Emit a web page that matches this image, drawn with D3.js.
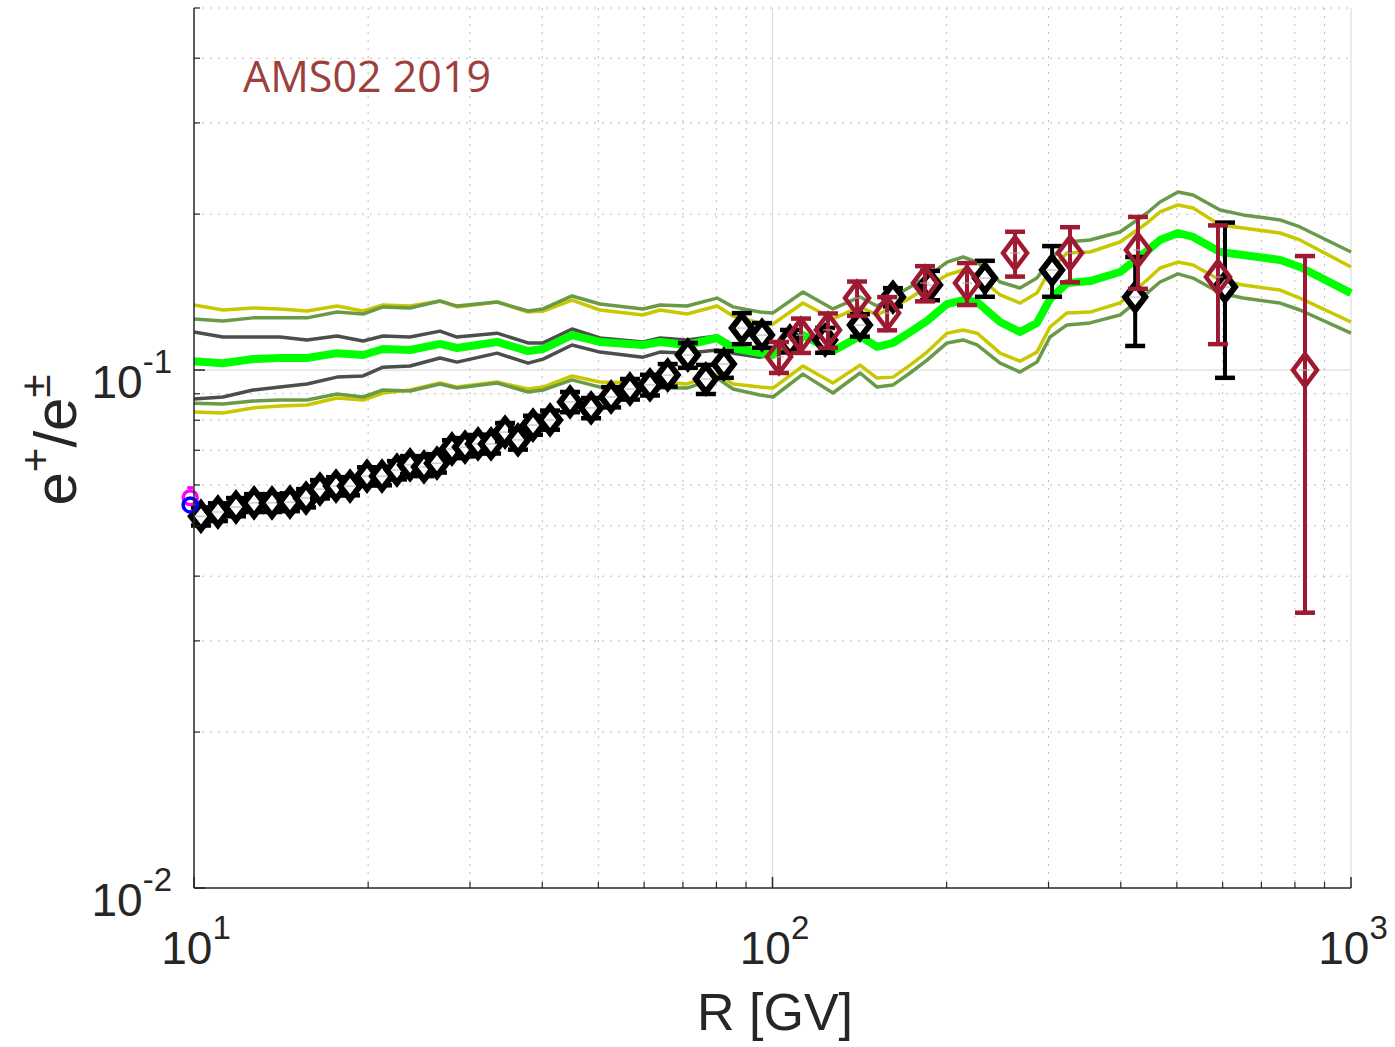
<!DOCTYPE html>
<html>
<head>
<meta charset="utf-8">
<script src="https://cdn.jsdelivr.net/npm/d3@7"></script>
<style>
  html, body { margin: 0; padding: 0; background: #fff; }
  svg { display: block; }
</style>
</head>
<body>
<svg id="chart" width="1395" height="1047"></svg>
<script>
// e+/e± fraction vs rigidity, model bands + AMS02 points

// --- model curves (shared rigidity grid) ---
const R_GRID = [10.0, 11.22, 12.65, 14.08, 15.68, 17.67, 19.60, 21.22, 23.63, 26.62, 28.49, 33.41, 37.79, 40.12,
  45.02, 50.32, 59.72, 63.91, 71.14, 80.19, 85.46, 95.15, 100.2, 112.9, 127.2, 141.7, 151.6, 161.6, 172.9, 185.0,
  200.3, 213.5, 225.8, 247.4, 267.8, 286.5, 301.8, 322.9, 353.9, 398.7, 444.1, 467.6, 502.3, 533.3, 593.8, 650.8,
  754.0, 816.3, 1000];

const CENTRAL = [0.1040, 0.1031, 0.1050, 0.1055, 0.1055, 0.1078, 0.1069, 0.1098, 0.1093, 0.1123, 0.1103, 0.1133, 0.1088, 0.1098,
  0.1168, 0.1133, 0.1118, 0.1133, 0.1118, 0.1153, 0.1103, 0.1078, 0.1069, 0.1168, 0.1088, 0.1163, 0.1108, 0.1128, 0.1184, 0.1244,
  0.1341, 0.1365, 0.1353, 0.1238, 0.1184, 0.1233, 0.1371, 0.1472, 0.1485, 0.1546, 0.1698, 0.1783, 0.1839, 0.1807, 0.1690, 0.1668,
  0.1631, 0.1581, 0.1408];

const YEL_UP = [0.1335, 0.1306, 0.1318, 0.1312, 0.1300, 0.1329, 0.1300, 0.1335, 0.1329, 0.1359, 0.1324, 0.1353, 0.1294, 0.1300,
  0.1365, 0.1306, 0.1277, 0.1306, 0.1283, 0.1329, 0.1271, 0.1233, 0.1227, 0.1347, 0.1255, 0.1324, 0.1277, 0.1324, 0.1377, 0.1446,
  0.1526, 0.1560, 0.1526, 0.1396, 0.1347, 0.1408, 0.1560, 0.1683, 0.1690, 0.1767, 0.1923, 0.2019, 0.2083, 0.2055, 0.1906, 0.1881,
  0.1839, 0.1783, 0.1581];

const YEL_LO = [0.0830, 0.0826, 0.0845, 0.0852, 0.0856, 0.0883, 0.0875, 0.0903, 0.0915, 0.0944, 0.0927, 0.0948, 0.0919, 0.0927,
  0.0974, 0.0948, 0.0944, 0.0948, 0.0940, 0.0982, 0.0940, 0.0927, 0.0923, 0.1018, 0.0944, 0.1022, 0.0965, 0.0969, 0.1022, 0.1083,
  0.1178, 0.1195, 0.1178, 0.1078, 0.1040, 0.1083, 0.1211, 0.1289, 0.1294, 0.1347, 0.1492, 0.1574, 0.1616, 0.1595, 0.1492, 0.1459,
  0.1427, 0.1377, 0.1238];

const OLV_UP = [0.1255, 0.1244, 0.1261, 0.1261, 0.1261, 0.1294, 0.1283, 0.1324, 0.1318, 0.1359, 0.1329, 0.1353, 0.1300, 0.1312,
  0.1390, 0.1341, 0.1312, 0.1335, 0.1329, 0.1377, 0.1324, 0.1294, 0.1289, 0.1415, 0.1312, 0.1384, 0.1329, 0.1384, 0.1446, 0.1512,
  0.1616, 0.1653, 0.1616, 0.1479, 0.1440, 0.1505, 0.1631, 0.1767, 0.1783, 0.1847, 0.2010, 0.2111, 0.2207, 0.2178, 0.2037, 0.1993,
  0.1949, 0.1889, 0.1690];

const OLV_LO = [0.0863, 0.0860, 0.0871, 0.0875, 0.0875, 0.0899, 0.0887, 0.0915, 0.0911, 0.0940, 0.0923, 0.0944, 0.0907, 0.0915,
  0.0957, 0.0927, 0.0915, 0.0923, 0.0923, 0.0965, 0.0919, 0.0895, 0.0887, 0.0982, 0.0903, 0.0987, 0.0927, 0.0936, 0.0987, 0.1045,
  0.1128, 0.1143, 0.1118, 0.1031, 0.0991, 0.1036, 0.1158, 0.1222, 0.1233, 0.1277, 0.1408, 0.1479, 0.1533, 0.1505, 0.1408, 0.1377,
  0.1347, 0.1306, 0.1178];

// dark band only runs up to ~100 GV where it closes onto the central curve
const DRK_UP = [0.1184, 0.1158, 0.1158, 0.1158, 0.1143, 0.1163, 0.1138, 0.1163, 0.1158, 0.1189, 0.1158, 0.1178, 0.1128, 0.1128,
  0.1200, 0.1153, 0.1133, 0.1153, 0.1143, 0.1163, 0.1118, 0.1083, 0.1069];
const DRK_LO = [0.0879, 0.0887, 0.0915, 0.0927, 0.0940, 0.0969, 0.0974, 0.1013, 0.1018, 0.1055, 0.1036, 0.1078, 0.1031, 0.1050,
  0.1118, 0.1083, 0.1059, 0.1083, 0.1078, 0.1093, 0.1078, 0.1059, 0.1069];

// --- data: black diamonds ---
const AMS_R = [10.28, 11.0, 11.82, 12.7, 13.64, 14.65, 15.62, 16.51, 17.6, 18.61, 19.91, 21.13, 22.43, 23.63, 24.98, 26.3,
  27.92, 29.41, 30.97, 32.62, 34.49, 36.31, 38.55, 41.25, 44.67, 48.57, 52.6, 56.7, 61.4, 65.9, 71.4, 76.7, 82.4, 88.5,
  95.9, 107.2, 123.3, 141.6, 161.5, 187.2, 232.9, 304.3, 423.6, 605.6];
const AMS_FRAC = [0.0522, 0.0532, 0.0544, 0.0554, 0.0554, 0.0556, 0.0566, 0.0589, 0.0597, 0.0597, 0.0624, 0.0624, 0.0641,
  0.0656, 0.0650, 0.0661, 0.0704, 0.0710, 0.0720, 0.0720, 0.0759, 0.0733, 0.0783, 0.0801, 0.0868, 0.0845, 0.0887, 0.0919,
  0.0936, 0.0978, 0.1069, 0.0961, 0.1027, 0.1205, 0.1168, 0.1138, 0.1143, 0.1221, 0.1383, 0.1459, 0.1505, 0.1560, 0.1383, 0.1446];
const AMS_ERR = [0.0021, 0.0021, 0.0022, 0.0022, 0.0022, 0.0022, 0.0023, 0.0024, 0.0024, 0.0024, 0.0025, 0.0025, 0.0026,
  0.0026, 0.0026, 0.0027, 0.0028, 0.0029, 0.0029, 0.0030, 0.0031, 0.0031, 0.0033, 0.0034, 0.0039, 0.0038, 0.0040, 0.0042,
  0.0043, 0.0049, 0.0059, 0.0062, 0.0061, 0.0083, 0.0064, 0.0057, 0.0063, 0.0061, 0.0056, 0.0095, 0.0120, 0.0175, 0.0270, 0.0480];

// --- data: AMS02 2019 (red diamonds) ---
const AMS19_R = [102.6, 112.0, 124.7, 140.0, 157.8, 183.5, 216.9, 262.6, 326.8, 428.3, 588.9, 832.7];
const AMS19_FRAC = [0.1060, 0.1168, 0.1195, 0.1377, 0.1288, 0.1472, 0.1472, 0.1682, 0.1682, 0.1705, 0.1512, 0.1000];
const AMS19_ERR = [0.0073, 0.0089, 0.0091, 0.0105, 0.0095, 0.0115, 0.0137, 0.0167, 0.0205, 0.0270, 0.0390, 0.0660];

// --- low-energy points sitting on the left axis ---
const LOW_R = [9.85, 9.85];
const LOW_FRAC = [0.0567, 0.0549];
const LOW_COLOR = ['#ff00ff', '#0000ff'];

const X_MAJOR = [10, 100, 1000];
const X_MINOR = [20, 30, 40, 50, 60, 70, 80, 90, 200, 300, 400, 500, 600, 700, 800, 900];
const Y_MAJOR = [0.01, 0.1];
const Y_MINOR = [0.02, 0.03, 0.04, 0.05, 0.06, 0.07, 0.08, 0.09, 0.2, 0.3, 0.4, 0.5];
const X_LABELS = [['10', '1'], ['10', '2'], ['10', '3']];
const Y_LABELS = [['10', '-2'], ['10', '-1']];

(function () {
  const svg = d3.select('#chart');
  const L = 194, R = 1351, T = 8, B = 888;
  const x = d3.scaleLog().domain([10, 1000]).range([L, R]);
  const y = d3.scaleLog().domain([0.01, 0.5]).range([B, T]);
  const axisCol = '#262626';
  const font = '"Liberation Sans", Arial, Helvetica, sans-serif';

  // grid
  const grid = svg.append('g');
  X_MINOR.forEach(v => grid.append('line')
    .attr('x1', x(v)).attr('x2', x(v)).attr('y1', T).attr('y2', B)
    .attr('stroke', '#bdbdbd').attr('stroke-width', 1).attr('stroke-dasharray', '2,6'));
  Y_MINOR.forEach(v => grid.append('line')
    .attr('x1', L).attr('x2', R).attr('y1', y(v)).attr('y2', y(v))
    .attr('stroke', '#bdbdbd').attr('stroke-width', 1).attr('stroke-dasharray', '2,6'));
  X_MAJOR.slice(1).forEach(v => grid.append('line')
    .attr('x1', x(v)).attr('x2', x(v)).attr('y1', T).attr('y2', B)
    .attr('stroke', '#dedede').attr('stroke-width', 1.2));
  grid.append('line').attr('x1', L).attr('x2', R).attr('y1', y(0.1)).attr('y2', y(0.1))
    .attr('stroke', '#dedede').attr('stroke-width', 1.2);

  // curves
  const line = d3.line().x(d => x(d[0])).y(d => y(d[1]));
  const curves = [
    { v: YEL_UP, c: '#c8c800', w: 3.5 },
    { v: YEL_LO, c: '#c8c800', w: 3.5 },
    { v: OLV_UP, c: '#6a9a48', w: 3.5 },
    { v: OLV_LO, c: '#6a9a48', w: 3.5 },
    { v: DRK_UP, c: '#4b4f4b', w: 3.5 },
    { v: DRK_LO, c: '#4b4f4b', w: 3.5 },
    { v: CENTRAL, c: '#00ff00', w: 8 }
  ];
  const gCurves = svg.append('g');
  curves.forEach(k => gCurves.append('path')
    .datum(k.v.map((v, i) => [R_GRID[i], v]))
    .attr('d', line).attr('fill', 'none')
    .attr('stroke', k.c).attr('stroke-width', k.w).attr('stroke-linejoin', 'round'));

  // error-bar diamonds
  function drawSet(rs, vals, errs, col, hw, hh, cap, sw, fillInner) {
    const g = svg.append('g');
    rs.forEach((r, i) => {
      const cx = x(r), cy = y(vals[i]);
      const y1 = y(vals[i] + errs[i]), y2 = y(vals[i] - errs[i]);
      g.append('line').attr('x1', cx).attr('x2', cx).attr('y1', y1).attr('y2', y2)
        .attr('stroke', col).attr('stroke-width', 4);
      [y1, y2].forEach(yy => g.append('line')
        .attr('x1', cx - cap).attr('x2', cx + cap).attr('y1', yy).attr('y2', yy)
        .attr('stroke', col).attr('stroke-width', 4.5));
      g.append('path')
        .attr('d', `M${cx},${cy - hh}L${cx + hw},${cy}L${cx},${cy + hh}L${cx - hw},${cy}Z`)
        .attr('fill', fillInner).attr('stroke', col).attr('stroke-width', sw)
        .attr('stroke-linejoin', 'miter');
      g.append('line').attr('x1', cx - 5).attr('x2', cx + 5).attr('y1', cy).attr('y2', cy)
        .attr('stroke', '#b0b0b0').attr('stroke-width', 1);
    });
  }
  drawSet(AMS_R, AMS_FRAC, AMS_ERR, '#000000', 10, 13, 10, 6, '#ffffff');
  drawSet(AMS19_R, AMS19_FRAC, AMS19_ERR, '#9e1a32', 12, 16, 10, 4.5, 'none');

  // low points on the axis
  LOW_R.forEach((r, i) => {
    svg.append('circle').attr('cx', x(r)).attr('cy', y(LOW_FRAC[i])).attr('r', 7)
      .attr('fill', 'none').attr('stroke', LOW_COLOR[i]).attr('stroke-width', 3.5);
  });
  svg.append('line').attr('x1', x(LOW_R[0]) - 3).attr('x2', x(LOW_R[0]) + 3)
    .attr('y1', y(LOW_FRAC[0]) - 10).attr('y2', y(LOW_FRAC[0]) - 10)
    .attr('stroke', LOW_COLOR[0]).attr('stroke-width', 3);

  // axes
  const ax = svg.append('g');
  ax.append('line').attr('x1', L).attr('x2', L).attr('y1', T).attr('y2', B)
    .attr('stroke', axisCol).attr('stroke-width', 1.5);
  ax.append('line').attr('x1', L).attr('x2', R).attr('y1', B).attr('y2', B)
    .attr('stroke', axisCol).attr('stroke-width', 1.5);
  X_MAJOR.forEach(v => ax.append('line').attr('x1', x(v)).attr('x2', x(v)).attr('y1', B).attr('y2', B - 11)
    .attr('stroke', axisCol).attr('stroke-width', 1.5));
  X_MINOR.forEach(v => ax.append('line').attr('x1', x(v)).attr('x2', x(v)).attr('y1', B).attr('y2', B - 6)
    .attr('stroke', axisCol).attr('stroke-width', 1.2));
  Y_MAJOR.forEach(v => ax.append('line').attr('x1', L).attr('x2', L + 11).attr('y1', y(v)).attr('y2', y(v))
    .attr('stroke', axisCol).attr('stroke-width', 1.5));
  Y_MINOR.forEach(v => ax.append('line').attr('x1', L).attr('x2', L + 6).attr('y1', y(v)).attr('y2', y(v))
    .attr('stroke', axisCol).attr('stroke-width', 1.2));

  // tick labels with superscript exponents
  X_MAJOR.forEach((v, i) => {
    const t = ax.append('text').attr('x', x(v) + 2).attr('y', B + 76)
      .attr('text-anchor', 'middle').attr('font-family', font).attr('font-size', 46).attr('fill', axisCol);
    t.append('tspan').text(X_LABELS[i][0]);
    t.append('tspan').attr('dy', -25).attr('font-size', 33).text(X_LABELS[i][1]);
  });
  Y_MAJOR.forEach((v, i) => {
    const t = ax.append('text').attr('x', 172).attr('y', y(v) + 28)
      .attr('text-anchor', 'end').attr('font-family', font).attr('font-size', 46).attr('fill', axisCol);
    t.append('tspan').text(Y_LABELS[i][0]);
    t.append('tspan').attr('dy', -25).attr('font-size', 33).text(Y_LABELS[i][1]);
  });

  // axis titles
  svg.append('text').attr('x', 775).attr('y', 1030).attr('text-anchor', 'middle')
    .attr('font-family', font).attr('font-size', 52).attr('fill', axisCol).text('R [GV]');
  const yl = svg.append('text').attr('transform', 'translate(76,440) rotate(-90)')
    .attr('text-anchor', 'middle').attr('font-family', font).attr('font-size', 60).attr('fill', axisCol);
  yl.append('tspan').text('e');
  yl.append('tspan').attr('dy', -26).attr('font-size', 42).text('+');
  yl.append('tspan').attr('dy', 26).text('/e');
  yl.append('tspan').attr('dy', -26).attr('font-size', 42).text('±');

  // data label
  svg.append('text').attr('x', 243).attr('y', 92)
    .attr('font-family', '"Open Sans", "DejaVu Sans", sans-serif').attr('font-size', 43)
    .attr('fill', '#9c3f3d').text('AMS02 2019');
})();
</script>
</body>
</html>
